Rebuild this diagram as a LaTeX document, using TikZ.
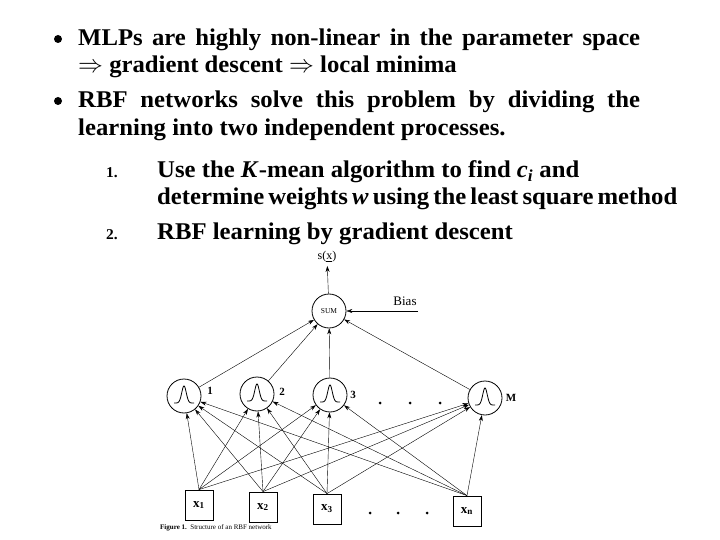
\documentclass[tikz,border=0pt]{standalone}
\usepackage{fontspec}
\setmainfont{Liberation Serif}
\newfontfamily\slidefont{Liberation Serif}[FakeStretch=1.03]
\usepackage{tikz}
\usetikzlibrary{arrows.meta}

\begin{document}
\begin{tikzpicture}[x=1pt,y=-1pt]
	\tikzstyle{txt}=[anchor=base west,inner sep=0pt,font=\slidefont\bfseries\fontsize{24}{28}\selectfont]
	\tikzstyle{num}=[anchor=base west,inner sep=0pt,font=\slidefont\bfseries\fontsize{15}{18}\selectfont]
	\tikzstyle{dot}=[circle,fill,inner sep=0pt,minimum size=8pt]
	\tikzstyle{rbf}=[circle,draw,thick,inner sep=0pt,minimum size=34pt]
	\tikzstyle{inp}=[rectangle,draw,thick,inner sep=0pt,minimum width=28pt,minimum height=30pt,font=\bfseries\fontsize{13}{15}\selectfont]
	\tikzstyle{lab}=[font=\bfseries\fontsize{11}{13}\selectfont]
	\tikzstyle{link}=[thin,-{Stealth[length=6pt,width=4pt]}]
	\useasboundingbox (0,0) rectangle (720,540);
	% bullet points
	\node (b1) at (58,39) [dot] {};
	\node (l1) at (78,46) [txt] {\makebox[562pt][s]{MLPs are highly non-linear in the parameter space}};
	\node (l2) at (78,73) [txt] {$\Rightarrow$ gradient descent $\Rightarrow$ local minima};
	\node (b2) at (58,101) [dot] {};
	\node (l3) at (78,108) [txt] {\makebox[562pt][s]{RBF networks solve this problem by dividing the}};
	\node (l4) at (78,136) [txt] {learning into two independent processes.};
	% numbered steps
	\node (n1) at (106,178) [num] {1.};
	\node (s1) at (157,178) [txt] {Use the \textit{K}-mean algorithm to find \textit{c}\textsubscript{\textit{i}} and};
	\node (s2) at (157,205) [txt] {\makebox[518pt][s]{determine weights \textit{w} using the least square method}};
	\node (n2) at (106,240) [num] {2.};
	\node (s3) at (157,240) [txt] {RBF learning by gradient descent};
	% network
	\node (out) at (327,257) [font=\fontsize{12}{14}\selectfont] {s($\underline{\mathrm{x}}$)};
	\node (sum) at (329,311) [rbf,font=\fontsize{7.5}{9}\selectfont] {SUM};
	\node (bias) at (405,301) [font=\fontsize{13}{15}\selectfont] {Bias};
	\coordinate (bias-in) at (418,311);
	\node (h1) at (184,396) [rbf] {};
	\node (h2) at (257,394) [rbf] {};
	\node (h3) at (330,395) [rbf] {};
	\node (hM) at (485,398) [rbf] {};
	\node (t1) at (210,391) [lab] {1};
	\node (t2) at (282,392) [lab] {2};
	\node (t3) at (353,395) [lab] {3};
	\node (tM) at (511,398) [lab] {M};
	\node (d1) at (380,403) [dot,minimum size=3pt] {};
	\node (d2) at (410,403) [dot,minimum size=3pt] {};
	\node (d3) at (440,403) [dot,minimum size=3pt] {};
	\node (x1) at (199,505) [inp] {x\textsubscript{1}};
	\node (x2) at (263,507) [inp] {x\textsubscript{2}};
	\node (x3) at (327,509) [inp] {x\textsubscript{3}};
	\node (xn) at (467,511) [inp] {x\textsubscript{n}};
	\node (e1) at (370,513) [dot,minimum size=3pt] {};
	\node (e2) at (398,513) [dot,minimum size=3pt] {};
	\node (e3) at (427,513) [dot,minimum size=3pt] {};
	\node (cap) at (160,528) [anchor=west,inner sep=0pt,font=\fontsize{7}{8}\selectfont] {\textbf{Figure 1.}~~Structure of an RBF network};
	% gaussian bumps
	\foreach \h in {h1,h2,h3,hM}
		\draw [thick,shift={(\h.center)}] plot [domain=-10:10,samples=31,smooth] (\x,{7-17*exp(-(\x/3.2)^2)});
	% connections
	\foreach \i in {x1,x2,x3,xn}
		\foreach \h in {h1,h2,h3,hM}
			\draw [link] (\i.north) -- (\h);
	\foreach \h in {h1,h2,h3,hM}
		\draw [link] (\h) -- (sum);
	\draw [link] (bias-in) -- (sum);
	\draw [link] (sum) -- (out);
\end{tikzpicture}
\end{document}
